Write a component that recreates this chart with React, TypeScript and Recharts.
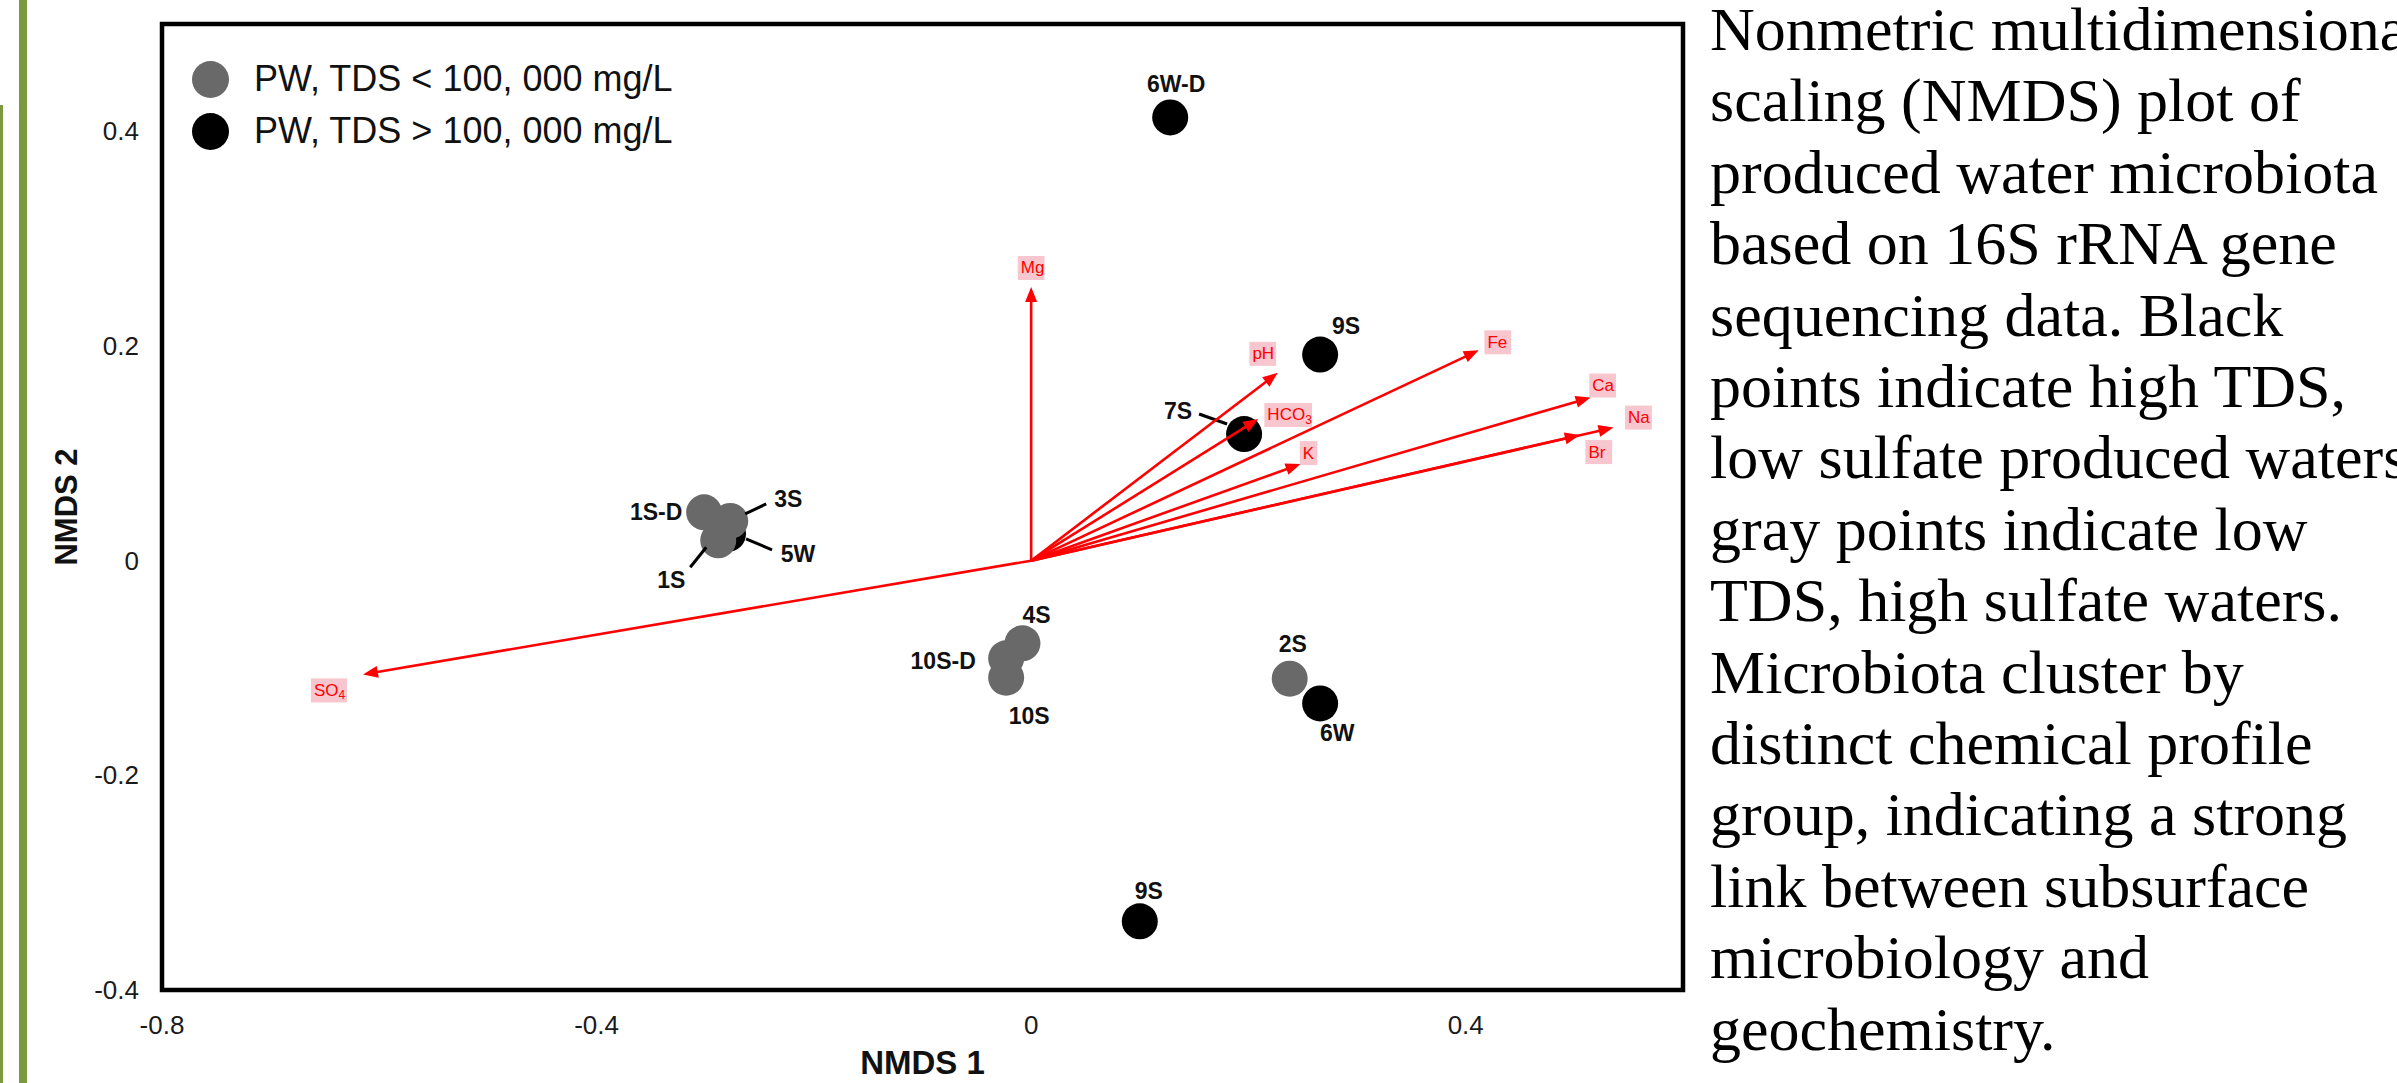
import React from 'react';
import { ScatterChart, Scatter, XAxis, YAxis, ReferenceLine, ReferenceArea, Legend } from 'recharts';

// NMDS scores, high TDS produced waters (black)
const highTdsNames = ['5W', '6W-D', '9S', '7S', '6W', '9S'];
const highTdsX = [-0.279, 0.128, 0.266, 0.196, 0.266, 0.1];
const highTdsY = [0.025, 0.413, 0.192, 0.118, -0.133, -0.336];

// NMDS scores, low TDS produced waters (gray)
const lowTdsNames = ['1S-D', '1S', '3S', '4S', '10S-D', '10S', '2S'];
const lowTdsX = [-0.301, -0.288, -0.277, -0.008, -0.023, -0.023, 0.238];
const lowTdsY = [0.045, 0.019, 0.037, -0.077, -0.091, -0.109, -0.11];

// fitted chemistry vectors (arrow tips)
const vectorNames = ['Mg', 'pH', 'Fe', 'Ca', 'HCO3', 'K', 'Na', 'Br', 'SO4'];
const vectorX = [0, 0.227, 0.412, 0.515, 0.209, 0.248, 0.536, 0.505, -0.615];
const vectorY = [0.255, 0.175, 0.196, 0.152, 0.132, 0.09, 0.124, 0.117, -0.106];

const xTicks = [-0.8, -0.4, 0, 0.4];
const yTicks = [-0.4, -0.2, 0, 0.2, 0.4];

const lowLabel = 'PW, TDS < 100, 000 mg/L';
const highLabel = 'PW, TDS > 100, 000 mg/L';

const captionLines = [
  'Nonmetric multidimensional',
  'scaling (NMDS) plot of',
  'produced water microbiota',
  'based on 16S rRNA gene',
  'sequencing data. Black',
  'points indicate high TDS,',
  'low sulfate produced waters,',
  'gray points indicate low',
  'TDS, high sulfate waters.',
  'Microbiota cluster by',
  'distinct chemical profile',
  'group, indicating a strong',
  'link between subsurface',
  'microbiology and',
  'geochemistry.',
];

// label placement in px, relative to the point centre (lead = leader line)
type Tag = { dx: number; dy: number; lead?: number[] };
const highTags: Tag[] = [
  { dx: 70, dy: 20, lead: [18, 5, 44, 16] },
  { dx: 6, dy: -33 },
  { dx: 26, dy: -29 },
  { dx: -66, dy: -23, lead: [-45, -20, -17, -10] },
  { dx: 17, dy: 30 },
  { dx: 9, dy: -30 },
];
const lowTags: Tag[] = [
  { dx: -48, dy: 0 },
  { dx: -47, dy: 40, lead: [-12, 7, -28, 27] },
  { dx: 58, dy: -22, lead: [15, -7, 36, -17] },
  { dx: 14, dy: -28 },
  { dx: -63, dy: 3 },
  { dx: 23, dy: 38 },
  { dx: 3, dy: -35 },
];
const vectorTags: Record<string, [number, number]> = {
  Mg: [0, -19], pH: [-15, -19], Fe: [19, -8], Ca: [12, -12], HCO3: [30, -4],
  K: [8, -11], Na: [25, -10], Br: [19, 17], SO4: [-34, 16],
};

const SANS = '"Liberation Sans", Arial, sans-serif';
const GRAY = '#696969';
const RED = '#ff0000';

const highData = highTdsNames.map((name, i) => ({ name, idx: i, x: highTdsX[i], y: highTdsY[i] }));
const lowData = lowTdsNames.map((name, i) => ({ name, idx: i, x: lowTdsX[i], y: lowTdsY[i] }));

const makeDot = (color: string, tags: Tag[]) => (props: any) => {
  const { cx, cy, payload } = props;
  const t = tags[payload.idx];
  return (
    <g>
      <circle cx={cx} cy={cy} r={18} fill={color} />
      {t.lead && (
        <line x1={cx + t.lead[0]} y1={cy + t.lead[1]} x2={cx + t.lead[2]} y2={cy + t.lead[3]} stroke="#000" strokeWidth={3} />
      )}
      <text x={cx + t.dx} y={cy + t.dy} textAnchor="middle" dominantBaseline="central"
        fontFamily={SANS} fontWeight="bold" fontSize={23} fill="#111">
        {payload.name}
      </text>
    </g>
  );
};

const textWidth = (s: string, fs: number) =>
  s.split('').reduce((w, c) => w + (c >= 'A' && c <= 'Z' ? 0.68 : 0.54) * fs, 0);

const makeVector = (name: string) => (props: any) => {
  const { x1, y1, x2, y2 } = props;
  const ang = Math.atan2(y2 - y1, x2 - x1);
  const ux = Math.cos(ang), uy = Math.sin(ang);
  const L = 15, W = 6;
  const bx = x2 - ux * L, by = y2 - uy * L;
  const head = `${x2},${y2} ${bx - uy * W},${by + ux * W} ${bx + uy * W},${by - ux * W}`;
  const m = name.match(/^(.*?)(\d)$/);
  const main = m ? m[1] : name;
  const sub = m ? m[2] : '';
  const fs = 17;
  const w = textWidth(main, fs) + (sub ? 7 : 0) + 6;
  const [dx, dy] = vectorTags[name];
  const tx = x2 + dx, ty = y2 + dy;
  return (
    <g>
      <line x1={x1} y1={y1} x2={bx + ux * 2} y2={by + uy * 2} stroke={RED} strokeWidth={2.6} />
      <polygon points={head} fill={RED} />
      <rect x={tx - w / 2} y={ty - 12} width={w} height={24} fill="#f8c6ce" />
      <text x={tx - w / 2 + 3} y={ty} dominantBaseline="central" fontFamily={SANS} fontSize={fs} fill={RED}>
        {main}
        {sub && <tspan fontSize={12} dy={5}>{sub}</tspan>}
      </text>
    </g>
  );
};

const XTick = (props: any) => (
  <text x={props.x} y={props.y} textAnchor="middle" dominantBaseline="central" fontFamily={SANS} fontSize={26} fill="#1a1a1a">
    {String(props.payload.value)}
  </text>
);

const YTick = (props: any) => (
  <text x={props.x} y={props.y} textAnchor="end" dominantBaseline="central" fontFamily={SANS} fontSize={26} fill="#1a1a1a">
    {String(props.payload.value)}
  </text>
);

const LegendBox = () => (
  <div style={{ fontFamily: SANS, fontSize: 36, color: '#111' }}>
    {[{ c: GRAY, t: lowLabel }, { c: '#000', t: highLabel }].map((e) => (
      <div key={e.t} style={{ display: 'flex', alignItems: 'center', height: 52, whiteSpace: 'nowrap' }}>
        <div style={{ width: 37, height: 37, borderRadius: '50%', background: e.c, marginRight: 25 }} />
        <span>{e.t}</span>
      </div>
    ))}
  </div>
);

export default function App() {
  return (
    <div style={{ position: 'relative', width: 2397, height: 1083, overflow: 'hidden', background: '#fff' }}>
      <style>{'body{margin:0;overflow:hidden}'}</style>
      <div style={{ position: 'absolute', left: 0, top: 105, width: 3, height: 1000, background: '#7b9a3d' }} />
      <div style={{ position: 'absolute', left: 19, top: 0, width: 8, height: 1083, background: '#7b9a3d' }} />

      <div style={{ position: 'absolute', left: 0, top: 0 }}>
        <ScatterChart width={2397} height={1083} margin={{ top: 24, right: 714, bottom: 33, left: 62 }}>
          <XAxis
            type="number"
            dataKey="x"
            domain={[-0.8, 0.6]}
            ticks={xTicks}
            allowDataOverflow
            axisLine={false}
            tickLine={false}
            tickSize={0}
            tickMargin={35}
            height={60}
            tick={<XTick />}
            label={{
              content: (p: any) => (
                <text x={p.viewBox.x + p.viewBox.width / 2} y={p.viewBox.y + 72} textAnchor="middle"
                  dominantBaseline="central" fontFamily={SANS} fontWeight="bold" fontSize={33} fill="#111">
                  NMDS 1
                </text>
              ),
            }}
          />
          <YAxis
            type="number"
            dataKey="y"
            domain={[-0.4, 0.5]}
            ticks={yTicks}
            allowDataOverflow
            axisLine={false}
            tickLine={false}
            tickSize={0}
            tickMargin={23}
            width={100}
            tick={<YTick />}
            label={{
              content: (p: any) => {
                const cx = p.viewBox.x + 4;
                const cy = p.viewBox.y + p.viewBox.height / 2;
                return (
                  <text x={cx} y={cy} transform={`rotate(-90 ${cx} ${cy})`} textAnchor="middle"
                    dominantBaseline="central" fontFamily={SANS} fontWeight="bold" fontSize={31} fill="#111">
                    NMDS 2
                  </text>
                );
              },
            }}
          />
          <Legend layout="vertical" align="center" verticalAlign="middle"
            wrapperStyle={{ left: 192, top: 53, width: 520, height: 104 }} content={() => <LegendBox />} />
          <Scatter name={highLabel} data={highData} fill="#000" shape={makeDot('#000', highTags)} isAnimationActive={false} />
          <Scatter name={lowLabel} data={lowData} fill={GRAY} shape={makeDot(GRAY, lowTags)} isAnimationActive={false} />
          {vectorNames.map((n, i) => (
            <ReferenceLine
              key={n}
              segment={[{ x: 0, y: 0 }, { x: vectorX[i], y: vectorY[i] }]}
              ifOverflow="visible"
              zIndex={700}
              shape={makeVector(n)}
            />
          ))}
          <ReferenceArea x1={-0.8} x2={0.6} y1={-0.4} y2={0.5} ifOverflow="visible"
            fill="none" fillOpacity={0} stroke="#000" strokeWidth={4.5} />
        </ScatterChart>
      </div>

      <div style={{ position: 'absolute', left: 1710, top: -6, fontFamily: '"Liberation Serif", serif', fontSize: 62, lineHeight: '71.4px', color: '#000' }}>
        {captionLines.map((l) => (
          <div key={l} style={{ whiteSpace: 'nowrap' }}>{l}</div>
        ))}
      </div>
    </div>
  );
}
